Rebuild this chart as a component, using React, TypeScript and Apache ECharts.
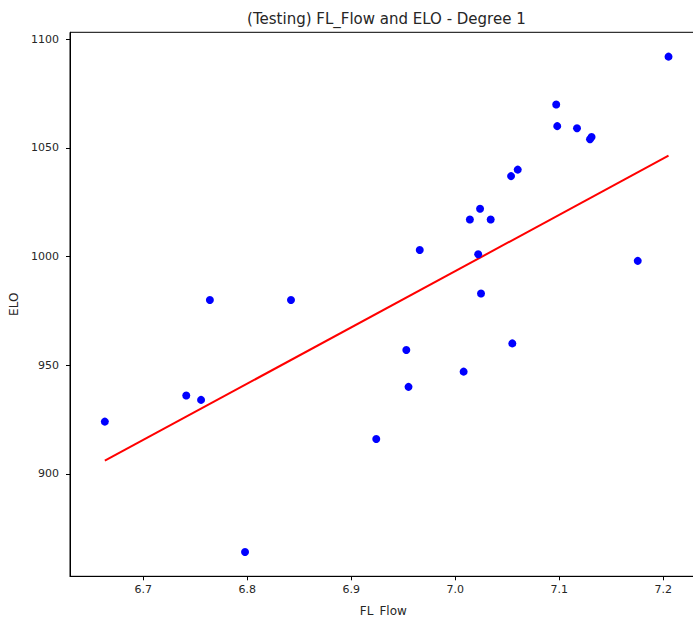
import React, { useEffect, useRef } from "react";
import * as echarts from "echarts";

const flowValues = [
  6.764, 6.842, 7.205, 7.097, 7.098, 7.117, 7.1295, 7.131, 7.0536, 7.06,
  7.0238, 7.014, 7.034, 6.9658, 7.022, 7.1754, 7.0247, 6.663, 6.7413, 6.7555,
  6.7978, 6.9529, 7.0548, 7.008, 6.955, 6.924,
];
const eloValues = [
  980, 980, 1092, 1070, 1060, 1059, 1054, 1055, 1037, 1040,
  1022, 1017, 1017, 1003, 1001, 998, 983, 924, 936, 934,
  864, 957, 960, 947, 940, 916,
];
const fitX = [6.663, 7.205];
const fitY = [906, 1046.4];
const xTicks = [6.7, 6.8, 6.9, 7.0, 7.1, 7.2];
const yTicks = [900, 950, 1000, 1050, 1100];
const titleText = "(Testing) FL_Flow and ELO - Degree 1";

export default function App() {
  const ref = useRef<HTMLDivElement>(null);
  useEffect(() => {
    document.body.style.margin = "0";
    document.body.style.overflow = "hidden";
    document.documentElement.style.overflow = "hidden";
    const chart = echarts.init(ref.current!, null, { renderer: "svg" });
    const font = "DejaVu Sans";
    const txt = "#262626";
    chart.setOption({
      animation: false,
      backgroundColor: "#ffffff",
      textStyle: { fontFamily: font },
      graphic: [
        {
          type: "text",
          x: 386.4,
          y: 18.5,
          style: {
            text: titleText,
            textAlign: "center",
            textVerticalAlign: "middle",
            fontFamily: font,
            fontSize: 15,
            fill: txt,
          },
        },
      ],
      grid: {
        left: 70,
        top: 32.3,
        right: 3.4,
        bottom: 40.7,
        outerBoundsMode: "none",
        containLabel: false,
        show: true,
        borderColor: "#000",
        borderWidth: 1,
        backgroundColor: "transparent",
      },
      xAxis: {
        type: "value",
        min: 6.6295,
        max: 7.232,
        name: "FL_Flow",
        nameLocation: "middle",
        nameGap: 29,
        nameTextStyle: { fontFamily: font, fontSize: 12, color: txt },
        axisLine: { show: true, lineStyle: { color: "#000", width: 1 } },
        axisTick: {
          show: true,
          length: 4,
          customValues: xTicks,
          lineStyle: { color: "#000" },
        },
        axisLabel: {
          customValues: xTicks,
          margin: 8,
          fontFamily: font,
          fontSize: 11,
          color: txt,
          formatter: (v: number) => v.toFixed(1),
        },
        splitLine: { show: false },
      },
      yAxis: {
        type: "value",
        min: 852.8,
        max: 1103.2,
        name: "ELO",
        nameLocation: "middle",
        nameGap: 40,
        nameRotate: 90,
        nameTextStyle: { fontFamily: font, fontSize: 12, color: txt },
        axisLine: { show: true, lineStyle: { color: "#000", width: 1 } },
        axisTick: {
          show: true,
          length: 4,
          customValues: yTicks,
          lineStyle: { color: "#000" },
        },
        axisLabel: {
          customValues: yTicks,
          margin: 11,
          fontFamily: font,
          fontSize: 11,
          color: txt,
          formatter: (v: number) => String(Math.round(v)),
        },
        splitLine: { show: false },
      },
      series: [
        {
          type: "line",
          data: fitX.map((x, i) => [x, fitY[i]]),
          showSymbol: false,
          symbol: "none",
          lineStyle: { color: "#ff0000", width: 2 },
          z: 2,
        },
        {
          type: "scatter",
          data: flowValues.map((x, i) => [x, eloValues[i]]),
          symbol: "circle",
          symbolSize: 8,
          itemStyle: { color: "#0000ff", opacity: 1 },
          z: 3,
        },
      ],
    });
    return () => chart.dispose();
  }, []);
  return (
    <div
      ref={ref}
      style={{ position: "fixed", left: 0, top: 0, width: 700, height: 617 }}
    />
  );
}
